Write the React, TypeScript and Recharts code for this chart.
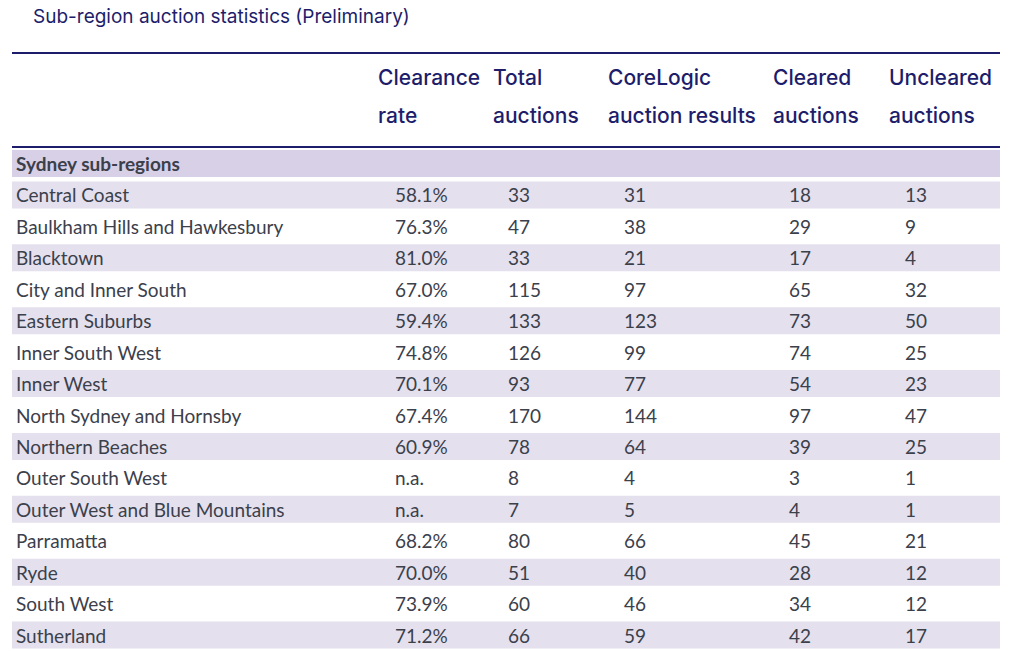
import React from 'react';
import { BarChart, Bar, XAxis, YAxis, Cell, LabelList } from 'recharts';

const regions = [
  'Sydney sub-regions',
  'Central Coast',
  'Baulkham Hills and Hawkesbury',
  'Blacktown',
  'City and Inner South',
  'Eastern Suburbs',
  'Inner South West',
  'Inner West',
  'North Sydney and Hornsby',
  'Northern Beaches',
  'Outer South West',
  'Outer West and Blue Mountains',
  'Parramatta',
  'Ryde',
  'South West',
  'Sutherland',
];
const clearanceRate = ['', '58.1%', '76.3%', '81.0%', '67.0%', '59.4%', '74.8%', '70.1%', '67.4%', '60.9%', 'n.a.', 'n.a.', '68.2%', '70.0%', '73.9%', '71.2%'];
const totalAuctions = ['', '33', '47', '33', '115', '133', '126', '93', '170', '78', '8', '7', '80', '51', '60', '66'];
const coreLogicResults = ['', '31', '38', '21', '97', '123', '99', '77', '144', '64', '4', '5', '66', '40', '46', '59'];
const clearedAuctions = ['', '18', '29', '17', '65', '73', '74', '54', '97', '39', '3', '4', '45', '28', '34', '42'];
const unclearedAuctions = ['', '13', '9', '4', '32', '50', '25', '23', '47', '25', '1', '1', '21', '12', '12', '17'];

const headers = [
  { left: 378, lines: ['Clearance', 'rate'] },
  { left: 493, lines: ['Total', 'auctions'] },
  { left: 608, lines: ['CoreLogic', 'auction results'] },
  { left: 773, lines: ['Cleared', 'auctions'] },
  { left: 889, lines: ['Uncleared', 'auctions'] },
];

const NAVY = '#1d1d6b';
const TEXT = '#3b404b';
const BODY_FONT = 'Lato, "Noto Sans", sans-serif';
const HEAD_FONT = 'Inter, "Open Sans", sans-serif';

const data = regions.map((name, i) => ({
  name,
  band: 1,
  clearance: clearanceRate[i],
  total: totalAuctions[i],
  corelogic: coreLogicResults[i],
  cleared: clearedAuctions[i],
  uncleared: unclearedAuctions[i],
}));

const rowFill = (i: number) => {
  if (i === 0) return '#d7d0e6';
  return i % 2 === 1 ? '#e4e0ee' : '#ffffff';
};

const makeLabel = (offset: number) => (props: any) => {
  const { x = 0, y = 0, height = 0, value = '', index = 0 } = props;
  const isSection = index === 0;
  return (
    <text
      x={Number(x) + offset}
      y={Number(y) + Number(height) / 2}
      dominantBaseline="central"
      fill={TEXT}
      fontSize={19}
      fontWeight={isSection ? 700 : 400}
      fontFamily={BODY_FONT}
    >
      {value}
    </text>
  );
};

const App: React.FC = () => {
  return (
    <div
      style={{
        position: 'absolute',
        left: 0,
        top: 0,
        width: 1013,
        height: 651,
        background: '#ffffff',
        overflow: 'hidden',
      }}
    >
      <div
        style={{
          position: 'absolute',
          left: 33,
          top: 5,
          fontSize: 19,
          color: NAVY,
          fontFamily: HEAD_FONT,
          whiteSpace: 'nowrap',
        }}
      >
        Sub-region auction statistics (Preliminary)
      </div>
      <div style={{ position: 'absolute', left: 12, top: 52, width: 988, height: 2, background: NAVY }} />
      {headers.map((h) => (
        <div
          key={h.left}
          style={{
            position: 'absolute',
            left: h.left,
            top: 59,
            fontSize: 21,
            lineHeight: '38px',
            fontWeight: 500,
            color: NAVY,
            fontFamily: HEAD_FONT,
            whiteSpace: 'nowrap',
          }}
        >
          {h.lines[0]}
          <br />
          {h.lines[1]}
        </div>
      ))}
      <div style={{ position: 'absolute', left: 12, top: 148 }}>
        <BarChart
          width={988}
          height={503}
          data={data}
          layout="vertical"
          margin={{ top: 0, right: 0, left: 0, bottom: 0 }}
          barCategoryGap={2}
        >
          <XAxis type="number" domain={[0, 1]} hide />
          <YAxis type="category" dataKey="name" hide />
          <Bar dataKey="band" isAnimationActive={false}>
            {data.map((d, i) => (
              <Cell key={d.name} fill={rowFill(i)} />
            ))}
            <LabelList dataKey="name" content={makeLabel(4)} />
            <LabelList dataKey="clearance" content={makeLabel(383)} />
            <LabelList dataKey="total" content={makeLabel(496)} />
            <LabelList dataKey="corelogic" content={makeLabel(612)} />
            <LabelList dataKey="cleared" content={makeLabel(777)} />
            <LabelList dataKey="uncleared" content={makeLabel(893)} />
          </Bar>
        </BarChart>
      </div>
      <div style={{ position: 'absolute', left: 12, top: 146, width: 988, height: 2, background: NAVY }} />
    </div>
  );
};

export default App;
